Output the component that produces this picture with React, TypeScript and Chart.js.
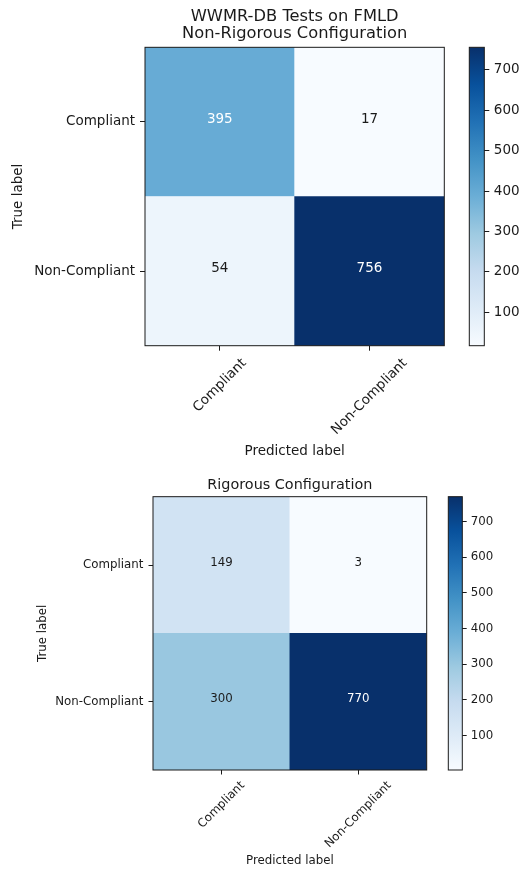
import React, { useEffect, useRef } from 'react';
import { Chart, registerables } from 'chart.js';

Chart.register(...registerables);

// ---- data ----
const predictedLabels = ['Compliant', 'Non-Compliant'];
const trueLabels = ['Compliant', 'Non-Compliant'];
// rows = true label, columns = predicted label
const nonRigorousCompliantRow = [395, 17];
const nonRigorousNonCompliantRow = [54, 756];
const rigorousCompliantRow = [149, 3];
const rigorousNonCompliantRow = [300, 770];
const colorbarTicks = [100, 200, 300, 400, 500, 600, 700];
const nonRigorousTitle = ['WWMR-DB Tests on FMLD', 'Non-Rigorous Configuration'];
const rigorousTitle = 'Rigorous Configuration';
const xAxisTitle = 'Predicted label';
const yAxisTitle = 'True label';

// matplotlib "Blues" colormap anchor colours
const BLUES = ['#f7fbff', '#deebf7', '#c6dbef', '#9ecae1', '#6baed6', '#4292c6', '#2171b5', '#08519c', '#08306b'];

const FONT = '"DejaVu Sans", "Liberation Sans", sans-serif';
const TEXT = '#1a1a1a';

function hexToRgb(h: string) {
  const n = parseInt(h.slice(1), 16);
  return [(n >> 16) & 255, (n >> 8) & 255, n & 255];
}
function blues(t: number) {
  const c = Math.max(0, Math.min(1, t)) * (BLUES.length - 1);
  const i = Math.min(BLUES.length - 2, Math.floor(c));
  const f = c - i;
  const a = hexToRgb(BLUES[i]);
  const b = hexToRgb(BLUES[i + 1]);
  const m = a.map((v, k) => Math.round(v + (b[k] - v) * f));
  return `rgb(${m[0]},${m[1]},${m[2]})`;
}

type Spec = {
  height: number;
  title: string | string[];
  titleSize: number;
  titleLH: number;
  titlePad: { top: number; bottom: number };
  tickSize: number;
  yAxisW: number;
  yTl: number;
  yPad: number;
  yTitlePad: number;
  xAxisH: number;
  xTl: number;
  xLabelPad: number;
  xTitlePad: number;
  gapW: number;
  cbW: number;
  barW: number;
  cbTl: number;
  cbPad: number;
};

function makeConfig(rows: number[][], spec: Spec): any {
  const all = rows.flat();
  const vmin = Math.min(...all);
  const vmax = Math.max(...all);
  const thresh = (vmin + vmax) / 2;
  const norm = (v: number) => (v - vmin) / (vmax - vmin);
  // stacked bars: first dataset at the bottom -> reverse rows
  const rowOrder = rows.map((_, i) => rows.length - 1 - i);
  const datasets = rowOrder.map((r) => ({
    label: trueLabels[r],
    data: rows[r].map(() => 1),
    backgroundColor: rows[r].map((v) => blues(norm(v))),
    borderWidth: 0,
    barPercentage: 1,
    categoryPercentage: 1,
    xAxisID: 'x',
    yAxisID: 'y',
  }));

  const plugin = {
    id: 'cmDecor',
    afterDraw(chart: any) {
      const ctx = chart.ctx as CanvasRenderingContext2D;
      const ca = chart.chartArea;
      ctx.save();
      // cell values
      ctx.font = `${spec.tickSize}px ${FONT}`;
      ctx.textAlign = 'center';
      ctx.textBaseline = 'middle';
      rowOrder.forEach((r, d) => {
        const meta = chart.getDatasetMeta(d);
        meta.data.forEach((el: any, j: number) => {
          const v = rows[r][j];
          ctx.fillStyle = v > thresh ? '#ffffff' : TEXT;
          ctx.fillText(String(v), el.x, (el.y + el.base) / 2 - spec.tickSize * 0.2);
        });
      });
      // frame
      ctx.strokeStyle = '#1a1a1a';
      ctx.lineWidth = 1;
      ctx.strokeRect(ca.left, ca.top, ca.right - ca.left, ca.bottom - ca.top);
      // colorbar
      const cb = chart.scales.cb;
      const x0 = cb.left - spec.barW;
      const g = ctx.createLinearGradient(0, cb.bottom, 0, cb.top);
      BLUES.forEach((c, i) => g.addColorStop(i / (BLUES.length - 1), c));
      ctx.fillStyle = g;
      ctx.fillRect(x0, cb.top, spec.barW, cb.bottom - cb.top);
      ctx.strokeRect(x0, cb.top, spec.barW, cb.bottom - cb.top);
      // rotated x tick labels (centered box like matplotlib)
      const xs = chart.scales.x;
      ctx.fillStyle = TEXT;
      ctx.font = `${spec.tickSize}px ${FONT}`;
      const top = ca.bottom + spec.xTl + spec.xLabelPad;
      (chart.data.labels as string[]).forEach((lab, i) => {
        const x = xs.getPixelForTick(i);
        const w = ctx.measureText(lab).width;
        const h = spec.tickSize * 1.164;
        const side = (w + h) * Math.SQRT1_2;
        ctx.save();
        ctx.translate(x, top + side / 2);
        ctx.rotate(-Math.PI / 4);
        ctx.textAlign = 'center';
        ctx.textBaseline = 'middle';
        ctx.fillText(lab, 0, 0);
        ctx.restore();
      });
      ctx.restore();
    },
  };

  return {
    type: 'bar',
    data: { labels: predictedLabels, datasets },
    plugins: [plugin],
    options: {
      responsive: false,
      maintainAspectRatio: false,
      animation: false,
      events: [],
      layout: { padding: 0 },
      plugins: {
        legend: { display: false },
        tooltip: { enabled: false },
        title: {
          display: true,
          text: spec.title,
          fullSize: false,
          color: TEXT,
          font: { family: FONT, size: spec.titleSize, weight: 'normal', lineHeight: spec.titleLH },
          padding: spec.titlePad,
        },
      },
      scales: {
        x: {
          type: 'category',
          stacked: true,
          offset: true,
          grid: { display: true, drawOnChartArea: false, offset: false, tickLength: spec.xTl, color: '#1a1a1a', tickColor: '#1a1a1a' },
          border: { display: false },
          ticks: { display: false },
          title: {
            display: true,
            text: xAxisTitle,
            color: TEXT,
            font: { family: FONT, size: spec.tickSize, lineHeight: 1.2 },
            padding: { top: 0, bottom: spec.xTitlePad },
          },
          afterFit: (s: any) => { s.height = spec.xAxisH; },
        },
        y: {
          type: 'linear',
          stacked: true,
          min: 0,
          max: trueLabels.length,
          afterBuildTicks: (s: any) => {
            s.ticks = trueLabels.map((_, i) => ({ value: trueLabels.length - i - 0.5 }));
          },
          grid: { display: true, drawOnChartArea: false, tickLength: spec.yTl, color: '#1a1a1a', tickColor: '#1a1a1a' },
          border: { display: false },
          ticks: {
            color: TEXT,
            padding: spec.yPad,
            font: { family: FONT, size: spec.tickSize },
            callback: (v: number) => trueLabels[trueLabels.length - 1 - Math.floor(v)],
          },
          title: {
            display: true,
            text: yAxisTitle,
            color: TEXT,
            font: { family: FONT, size: spec.tickSize, lineHeight: 1.2 },
            padding: { top: spec.yTitlePad, bottom: 0 },
          },
          afterFit: (s: any) => { s.width = spec.yAxisW; },
        },
        gap: {
          type: 'linear',
          position: 'right',
          weight: 0,
          display: true,
          grid: { display: false },
          border: { display: false },
          ticks: { display: false },
          afterFit: (s: any) => { s.width = spec.gapW; },
        },
        cb: {
          type: 'linear',
          position: 'right',
          weight: 1,
          min: vmin,
          max: vmax,
          afterBuildTicks: (s: any) => {
            s.ticks = colorbarTicks.map((v) => ({ value: v }));
          },
          grid: { display: true, drawOnChartArea: false, tickLength: spec.cbTl, color: '#1a1a1a', tickColor: '#1a1a1a' },
          border: { display: false },
          ticks: { color: TEXT, padding: spec.cbPad, font: { family: FONT, size: spec.tickSize } },
          afterFit: (s: any) => { s.width = spec.cbW; },
        },
      },
    },
  };
}

const topSpec: Spec = {
  height: 465,
  title: nonRigorousTitle,
  titleSize: 16.3,
  titleLH: 1.025,
  titlePad: { top: 8.4, bottom: 5.5 },
  tickSize: 13.5,
  yAxisW: 145,
  yTl: 5,
  yPad: 5,
  yTitlePad: 10.5,
  xAxisH: 119.3,
  xTl: 5,
  xLabelPad: 4.9,
  xTitlePad: 5,
  gapW: 40,
  cbW: 37.7,
  barW: 15,
  cbTl: 5,
  cbPad: 4.5,
};

const bottomSpec: Spec = {
  height: 404,
  title: rigorousTitle,
  titleSize: 14.4,
  titleLH: 1.2,
  titlePad: { top: 11.6, bottom: 2.8 },
  tickSize: 11.8,
  yAxisW: 153,
  yTl: 4.5,
  yPad: 5.2,
  yTitlePad: 36.2,
  xAxisH: 99,
  xTl: 4.5,
  xLabelPad: 4.3,
  xTitlePad: 0.9,
  gapW: 35.6,
  cbW: 59.7,
  barW: 14,
  cbTl: 4.4,
  cbPad: 4,
};

function Matrix({ rows, spec }: { rows: number[][]; spec: Spec }) {
  const ref = useRef<HTMLCanvasElement | null>(null);
  useEffect(() => {
    if (!ref.current) return;
    const chart = new Chart(ref.current, makeConfig(rows, spec));
    return () => chart.destroy();
  }, []);
  return <canvas ref={ref} width={522} height={spec.height} style={{ display: 'block', width: 522, height: spec.height }} />;
}

export default function App() {
  return (
    <div style={{ position: 'absolute', left: 0, top: 0, width: 522, height: 869, background: '#ffffff', overflow: 'hidden' }}>
      <Matrix rows={[nonRigorousCompliantRow, nonRigorousNonCompliantRow]} spec={topSpec} />
      <Matrix rows={[rigorousCompliantRow, rigorousNonCompliantRow]} spec={bottomSpec} />
    </div>
  );
}
